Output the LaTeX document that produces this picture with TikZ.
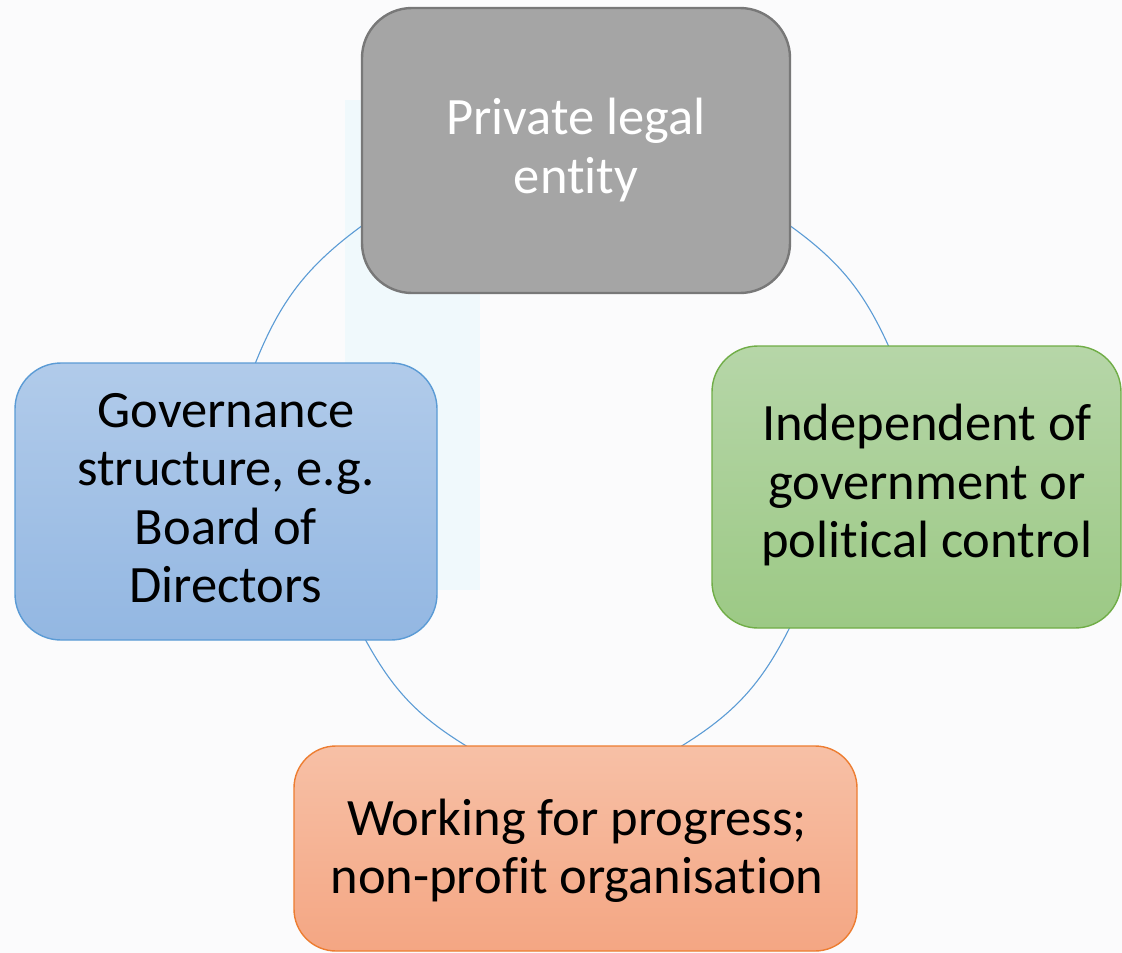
\documentclass[tikz,border=0pt]{standalone}
\usepackage{fontspec}
\setmainfont[Ligatures={NoCommon}]{Carlito}
\definecolor{bgc}{HTML}{FBFBFC}
\definecolor{bandblue}{HTML}{F0F9FC}
\definecolor{arcblue}{HTML}{5B9BD5}
\definecolor{grayfill}{HTML}{A5A5A5}
\definecolor{grayline}{HTML}{787878}
\definecolor{bluetop}{HTML}{B1CBEA}
\definecolor{bluebot}{HTML}{93B7E2}
\definecolor{blueline}{HTML}{5B9BD5}
\definecolor{greentop}{HTML}{B6D6A8}
\definecolor{greenbot}{HTML}{9CC985}
\definecolor{greenline}{HTML}{70AD47}
\definecolor{orangetop}{HTML}{F7C0A6}
\definecolor{orangebot}{HTML}{F4A683}
\definecolor{orangeline}{HTML}{ED7D31}
\begin{document}
\begin{tikzpicture}[x=1pt,y=-1pt,
  every node/.style={inner sep=0pt, outer sep=0pt},
  cbox/.style={rectangle, rounded corners=46pt, line width=1.4pt},
  ctext/.style={align=center, font=\fontsize{52.5}{58.5}\selectfont},
  arcline/.style={draw=arcblue, line width=1.1pt}]
\useasboundingbox (0,0) rectangle (1122,953);
\fill[bgc] (0,0) rectangle (1122,953);
\fill[bandblue] (345,100) rectangle (480,590);
% arcs
\coordinate (a1) at (255,364);
\coordinate (a2) at (363,225);
\coordinate (b1) at (789,225);
\coordinate (b2) at (889,347);
\coordinate (c1) at (790,627);
\coordinate (c2) at (680,747);
\coordinate (d1) at (468,747);
\coordinate (d2) at (365,639);
\draw[arcline] (a1) to[bend left=16] (a2);
\draw[arcline] (b1) to[bend left=15] (b2);
\draw[arcline] (c1) to[bend left=16] (c2);
\draw[arcline] (d1) to[bend left=15] (d2);
% boxes
\node[cbox, fill=grayfill, draw=grayline, line width=2.4pt, rounded corners=50pt,
      minimum width=428pt, minimum height=285pt] (legal) at (576,150.5) {};
\node[cbox, top color=bluetop, bottom color=bluebot, draw=blueline,
      minimum width=422pt, minimum height=277pt] (gov) at (226,501.5) {};
\node[cbox, top color=greentop, bottom color=greenbot, draw=greenline,
      minimum width=409pt, minimum height=282pt] (ind) at (916.5,487) {};
\node[cbox, top color=orangetop, bottom color=orangebot, draw=orangeline, rounded corners=42pt,
      minimum width=563pt, minimum height=205pt] (work) at (575.5,848.5) {};
% texts
\node[ctext, text=white] (legalt) at (576,150) {Private legal\\entity};
\node[ctext] (govt) at (226,498) {Governance\\structure, e.g.\\Board of\\Directors};
\node[ctext] (indt) at (927,485) {Independent of\\government or\\political control};
\node[ctext] (workt) at (577,851) {Working for progress;\\non-profit organisation};
\end{tikzpicture}
\end{document}
